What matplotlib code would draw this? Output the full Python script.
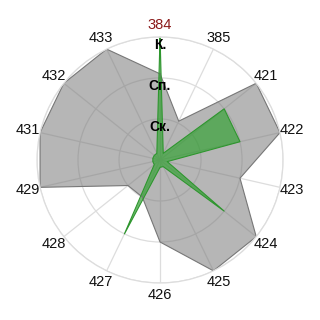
import numpy as np
import matplotlib as mpl
mpl.use('Agg')
import matplotlib.pyplot as plt

plt.rcParams['font.family'] = ['Liberation Sans', 'DejaVu Sans']

categories = ["384", "385", "421", "422", "423", "424", "425",
              "426", "427", "428", "429", "431", "432", "433"]
# level scale: 1 = Ск., 2 = Сп., 3 = К.
gray_values = [2.1, 1.05, 3, 3, 2, 3, 3, 2, 1, 1, 3, 3, 3, 3]
green_values = [3, 0.18, 2, 2, 0.18, 2, 0.18, 0.18, 2, 0.18, 0.18, 0.18, 0.18, 0.18]
level_labels = ["Ск.", "Сп.", "К."]
level_ticks = [1, 2, 3]

n = len(categories)
theta = np.arange(n) * 2 * np.pi / n
th = np.append(theta, theta[0])

fig = plt.figure(figsize=(3.2, 3.2), dpi=100)
ax = fig.add_axes([0.1156, 0.1156, 0.769, 0.769], polar=True)
ax.set_theta_zero_location('N')
ax.set_theta_direction(-1)
ax.set_ylim(0, 3)
ax.set_axisbelow(True)

g = np.append(gray_values, gray_values[0])
ax.fill(th, g, color='#7a7a7a', alpha=0.55, lw=0)
ax.plot(th, g, color='#777777', lw=0.8)

gr = np.append(green_values, green_values[0])
ax.fill(th, gr, color='#22a022', alpha=0.6, lw=0)
ax.plot(th, gr, color='#2e962e', lw=0.8)

ax.set_xticks(theta)
ax.set_xticklabels([])
ax.set_yticks(level_ticks)
ax.set_yticklabels([])
ax.grid(color='#dddddd', lw=0.9)
ax.spines['polar'].set_color('#dddddd')
ax.spines['polar'].set_linewidth(0.9)

for t, lab in zip(theta, categories):
    col = '#8b1a1a' if lab == "384" else '#111111'
    ax.text(t, 3.3, lab, ha='center', va='center', fontsize=10.5, color=col)

for v, lab in zip(level_ticks, level_labels):
    ax.text(0, v - 0.2, lab, ha='center', va='center', fontsize=10,
            fontweight='bold', color='black')

plt.savefig("out.png", dpi=100)
